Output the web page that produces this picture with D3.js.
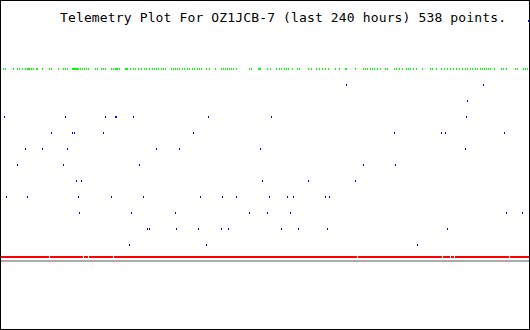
<!DOCTYPE html>
<html>
<head>
<meta charset="utf-8">
<script src="https://cdn.jsdelivr.net/npm/d3@7"></script>
<style>
  body { margin: 0; background: #fff; }
  .title { font-family: "DejaVu Sans Mono", monospace; font-size: 13px; fill: #000; }
</style>
</head>
<body>
<div id="plot"></div>
<script>
// Telemetry plot, last 240 hours

var titleText = "Telemetry Plot For OZ1JCB-7 (last 240 hours) 538 points.";

// hours since start of window where a green sample was plotted
var greenHours = [0.5, 1.4, 5.0, 6.8, 7.8, 9.1, 10.5, 11.4, 11.9, 12.3, 13.2, 14.2, 15.5, 16.0, 18.3, 21.5, 22.4,
    25.6, 27.8, 28.8, 29.7, 31.9, 32.4, 32.9, 33.3, 33.8, 34.2, 34.7, 35.6, 36.5, 37.4, 38.3, 39.2, 42.4, 43.4,
    45.2, 46.1, 47.0, 49.7, 50.7, 51.6, 52.0, 52.5, 53.4, 56.1, 56.6, 57.0, 58.4, 59.8, 60.7, 62.1, 63.4, 64.8,
    65.7, 67.1, 68.5, 69.4, 70.3, 71.2, 72.6, 73.5, 74.4, 77.1, 78.0, 78.9, 79.9, 80.8, 82.1, 83.1, 84.4, 85.3,
    86.7, 87.6, 89.0, 89.9, 90.8, 93.1, 94.5, 97.2, 99.9, 100.8, 101.8, 102.7, 103.6, 104.5, 105.4, 106.8,
    112.7, 113.6, 116.8, 117.3, 117.7, 120.9, 122.3, 125.0, 126.4, 127.3, 128.7, 129.6, 130.5, 132.3, 134.6,
    135.5, 139.6, 141.0, 143.3, 144.7, 146.0, 147.4, 148.8, 152.0, 153.8, 156.5, 157.0, 161.1, 164.7, 165.6,
    166.6, 167.9, 168.8, 169.7, 171.1, 172.5, 174.8, 175.7, 178.9, 179.8, 181.2, 182.5, 184.4, 185.3, 186.2,
    187.5, 188.9, 191.7, 195.3, 196.2, 198.0, 200.3, 201.7, 203.1, 204.4, 205.8, 207.2, 208.5, 209.9, 211.3,
    212.2, 213.6, 214.5, 215.8, 216.7, 218.1, 219.0, 219.9, 220.9, 221.8, 222.7, 224.5, 227.7, 228.6, 230.0,
    234.1, 235.0, 237.7, 238.7, 239.5];
var greenLevel = 12;

// blue channel samples
var blueHours = [0.9, 1.8, 6.8, 10.5, 11.4, 18.3, 22.4, 27.8, 28.7, 29.7, 31.9, 32.9, 33.8, 34.7, 35.1, 36.0,
    46.1, 47.0, 49.7, 51.6, 52.0, 57.9, 58.9, 59.8, 62.5, 64.3, 66.2, 67.1, 70.3, 78.9, 79.4, 80.8, 87.2, 89.4,
    90.3, 93.1, 94.0, 99.9, 100.4, 103.1, 106.8, 112.7, 117.7, 118.6, 120.9, 121.8, 122.7, 127.3, 130.0, 131.4,
    132.8, 135.1, 139.6, 147.4, 148.3, 149.2, 157.0, 161.1, 164.7, 178.9, 179.3, 189.4, 200.3, 202.1, 203.1,
    211.3, 211.7, 212.2, 219.5, 229.1, 230.0, 237.3, 240.0];
var blueValues = [9, 4, 6, 7, 4, 7, 8, 6, 9, 7, 8, 8, 5, 4, 3, 5,
    8, 9, 4, 9, 9, 1, 3, 9, 6, 4, 2, 2, 7, 3, 2, 7, 8, 2,
    4, 1, 9, 2, 4, 2, 4, 3, 7, 5, 3, 4, 9, 2, 4, 3,
    4, 2, 5, 4, 2, 4, 11, 5, 6, 8, 6, 1, 8, 8, 2,
    7, 9, 10, 11, 8, 3, 3, 15];

// red channel sits almost flat, with a few missing columns
var redLevel = 0.25;
var redGapHours = [21.4, 37.0, 39.2, 50.6, 162.0, 200.8, 204.4, 206.2, 231.3];

var grayLevel = 0;

var width = 530;
var height = 330;

var svg = d3.select("#plot")
    .append("svg")
    .attr("width", width)
    .attr("height", height)
    .attr("shape-rendering", "crispEdges");

var x = d3.scaleLinear().domain([0, 240]).range([2, 528]);
var y = d3.scaleLinear().domain([0, 16]).range([261, 5]);

function px(t) { return Math.round(x(t)); }

// gray baseline
svg.append("rect")
    .attr("x", 1)
    .attr("y", Math.round(y(grayLevel)) - 1)
    .attr("width", width - 2)
    .attr("height", 2)
    .attr("fill", "#aaaaaa");

// red line, split at the gaps
var redEdges = [-1].concat(redGapHours.map(px)).concat([width - 1]);
var redSegs = d3.pairs(redEdges);
svg.append("g").selectAll("rect")
    .data(redSegs)
    .enter()
    .append("rect")
    .attr("x", function(d) { return Math.max(1, d[0] + 1); })
    .attr("y", Math.round(y(redLevel)) - 1)
    .attr("width", function(d) { return d[1] - Math.max(1, d[0] + 1); })
    .attr("height", 2)
    .attr("fill", "#ff0000");

// green samples
svg.append("g").selectAll("rect")
    .data(greenHours)
    .enter()
    .append("rect")
    .attr("x", function(d) { return px(d); })
    .attr("y", Math.round(y(greenLevel)) - 1)
    .attr("width", 1)
    .attr("height", 2)
    .attr("fill", "#00ff00");

// blue samples
var blue = blueHours.map(function(t, i) { return { t: t, v: blueValues[i] }; });
svg.append("g").selectAll("rect")
    .data(blue)
    .enter()
    .append("rect")
    .attr("x", function(d) { return Math.min(px(d.t), width - 2); })
    .attr("y", function(d) { return Math.round(y(d.v)) - 1; })
    .attr("width", 1)
    .attr("height", 2)
    .attr("fill", "#0000ff");

// title
svg.append("text")
    .attr("class", "title")
    .attr("x", 60)
    .attr("y", 22)
    .attr("textLength", 446)
    .attr("lengthAdjust", "spacing")
    .text(titleText);

// frame
svg.append("rect")
    .attr("x", 0.5)
    .attr("y", 0.5)
    .attr("width", width - 1)
    .attr("height", height - 1)
    .attr("fill", "none")
    .attr("stroke", "#000")
    .attr("stroke-width", 1);
</script>
</body>
</html>
